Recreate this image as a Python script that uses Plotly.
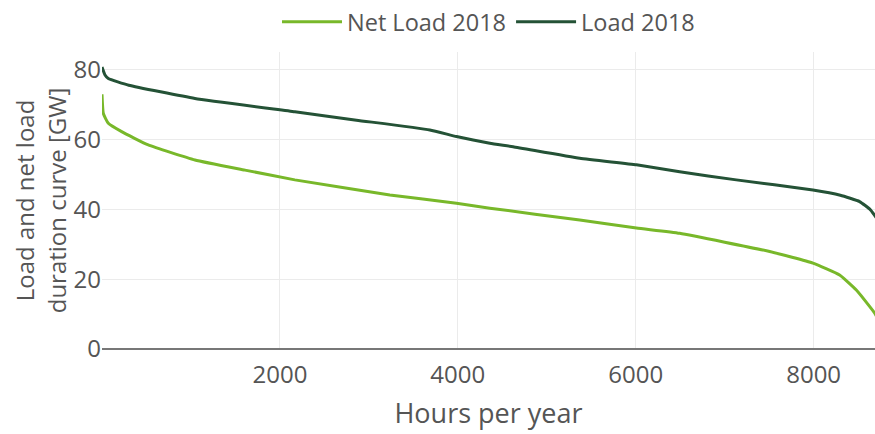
"""Load and net load duration curves, 2018."""

import plotly.graph_objects as go

# ---------------------------------------------------------------------------
# Data
# ---------------------------------------------------------------------------
LOAD_HOURS = [0, 34, 71, 300, 1045, 2168, 2861, 3685, 3985, 4360, 4622,
              5371, 6008, 6494, 7131, 7992, 8300, 8517, 8640, 8760]
LOAD_GW = [80.7, 78.4, 77.4, 75.5, 71.7, 67.9, 65.5, 62.7, 60.8, 58.9, 57.9,
           54.6, 52.7, 50.7, 48.4, 45.5, 44.0, 42.2, 39.8, 35.5]

NET_HOURS = [0, 15, 71, 221, 520, 1045, 1607, 2168, 3236, 3985, 4360, 5371,
             6008, 6494, 7506, 7992, 8292, 8480, 8629, 8685, 8760]
NET_GW = [72.9, 67.4, 64.6, 62.2, 58.4, 54.1, 51.2, 48.4, 44.1, 41.7, 40.3,
          36.9, 34.6, 33.1, 27.9, 24.6, 21.2, 16.9, 12.2, 10.3, 7.0]

X_TICKS = [2000, 4000, 6000, 8000]
Y_TICKS = [0, 20, 40, 60, 80]

LIGHT_GREEN = "#78b82a"
DARK_GREEN = "#245236"
TEXT = "#555555"
GRID = "#ebebeb"
FONT = "Open Sans"

fig = go.Figure()
fig.add_trace(go.Scatter(
    x=NET_HOURS, y=NET_GW, mode="lines", name="Net Load 2018",
    line=dict(color=LIGHT_GREEN, width=3, shape="spline", smoothing=0.4),
))
fig.add_trace(go.Scatter(
    x=LOAD_HOURS, y=LOAD_GW, mode="lines", name="Load 2018",
    line=dict(color=DARK_GREEN, width=3, shape="spline", smoothing=0.4),
))

fig.update_layout(
    width=875, height=434,
    margin=dict(l=102, r=0, t=52, b=85),
    paper_bgcolor="white", plot_bgcolor="white",
    font=dict(family=FONT, color=TEXT, size=18),
    showlegend=True,
    legend=dict(orientation="h", x=0.5, xanchor="center",
                y=1.0, yanchor="top", yref="container",
                itemwidth=60, font=dict(size=23.5, color=TEXT)),
)

fig.update_xaxes(
    range=[0, 8690], tickvals=X_TICKS, ticks="",
    showgrid=True, gridcolor=GRID, gridwidth=1,
    zeroline=False, showline=False, ticklabelstandoff=9,
    tickfont=dict(size=24, color=TEXT),
    title=dict(text="Hours per year", font=dict(size=27, color=TEXT),
               standoff=15),
)
fig.update_yaxes(
    range=[0, 85], tickvals=Y_TICKS, ticks="",
    showgrid=True, gridcolor=GRID, gridwidth=1,
    zeroline=True, zerolinecolor="#777777", zerolinewidth=2,
    ticklabelstandoff=0,
    tickfont=dict(size=24, color=TEXT),
    title=dict(text="Load and net load<br>duration curve [GW]",
               font=dict(size=24, color=TEXT), standoff=0),
)

# drop the default body margin so the figure fills the window exactly
fig.write_html("out.html", config={"displayModeBar": False},
               post_script="document.body.style.margin = '0';")
